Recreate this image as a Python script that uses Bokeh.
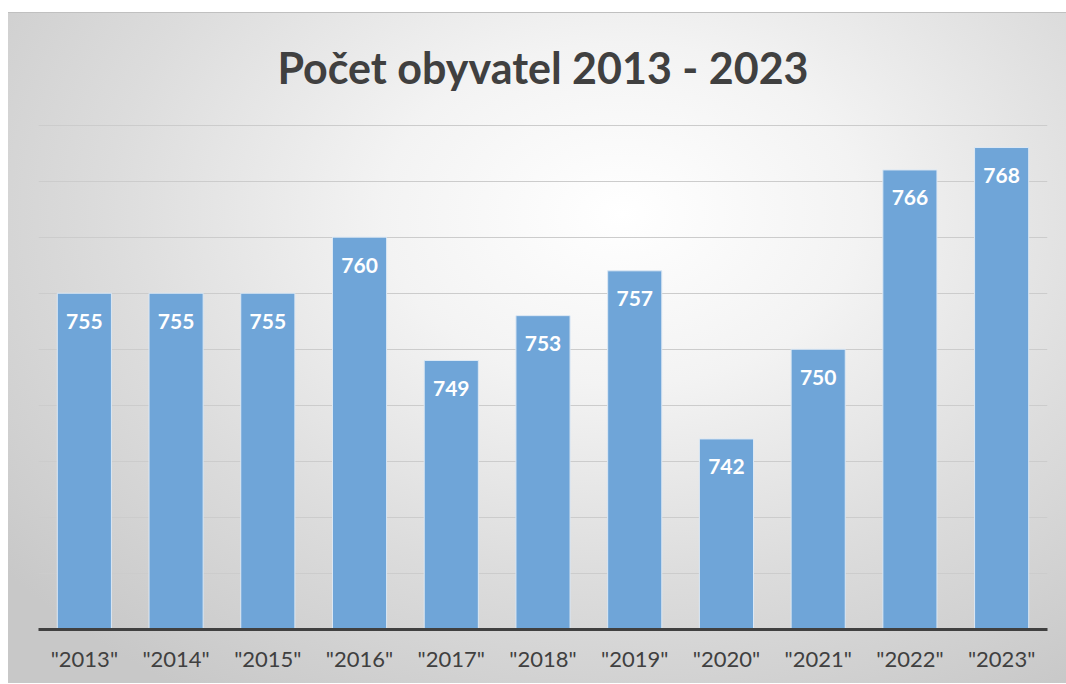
from bokeh.plotting import figure
from bokeh.models import FixedTicker, ColumnDataSource
from bokeh.core.properties import value
from bokeh.embed import file_html
from bokeh.resources import INLINE

years = ['"2013"', '"2014"', '"2015"', '"2016"', '"2017"', '"2018"',
         '"2019"', '"2020"', '"2021"', '"2022"', '"2023"']
population = [755, 755, 755, 760, 749, 753, 757, 742, 750, 766, 768]
y_start = 725
y_end = 770.5
grid_ticks = [730, 735, 740, 745, 750, 755, 760, 765, 770]
title_text = "Počet obyvatel 2013 - 2023"

src = ColumnDataSource(dict(x=years, top=population,
                            lab=[str(v) for v in population]))

p = figure(x_range=years, y_range=(y_start, y_end), width=1058, height=671,
           output_backend="svg", toolbar_location=None,
           min_border_left=30, min_border_right=19,
           min_border_top=106, min_border_bottom=55)
p.margin = (12, 0, 0, 8)
p.styles = {"background": "radial-gradient(ellipse 75% 85% at 58% 30%, #ffffff 0%, #f3f3f3 30%, #dcdcdc 65%, #c8c8c8 100%)",
            "border-top": "1px solid #c0c0c0", "box-sizing": "border-box"}
p.background_fill_alpha = 0
p.border_fill_alpha = 0
p.outline_line_color = None

p.title.text = title_text
p.title.align = "center"
p.title.text_font = "Lato"
p.title.text_font_size = "43px"
p.title.text_font_style = "bold"
p.title.text_color = "#404040"
p.title.standoff = 53

p.vbar(x="x", top="top", bottom=y_start, width=0.59, source=src,
       fill_color="#6fa5d8", line_color="#dce8f4", line_width=1)

p.text(x="x", y="top", text="lab", source=src, y_offset=28,
       text_align="center", text_baseline="middle",
       text_font=value("Lato"), text_font_style="bold",
       text_font_size="21px", text_color="white")

p.yaxis.visible = False
p.ygrid.ticker = FixedTicker(ticks=grid_ticks)
p.ygrid.grid_line_color = "#cccccc"
p.ygrid.grid_line_width = 1
p.xgrid.grid_line_color = None

ax = p.xaxis[0]
ax.axis_line_color = "#404040"
ax.axis_line_width = 3
ax.major_tick_line_color = None
ax.minor_tick_line_color = None
ax.major_label_text_font = "Lato"
ax.major_label_text_font_size = "22px"
ax.major_label_text_color = "#404040"
ax.major_label_standoff = 9

open("out.html", "w").write(file_html(p, INLINE))
